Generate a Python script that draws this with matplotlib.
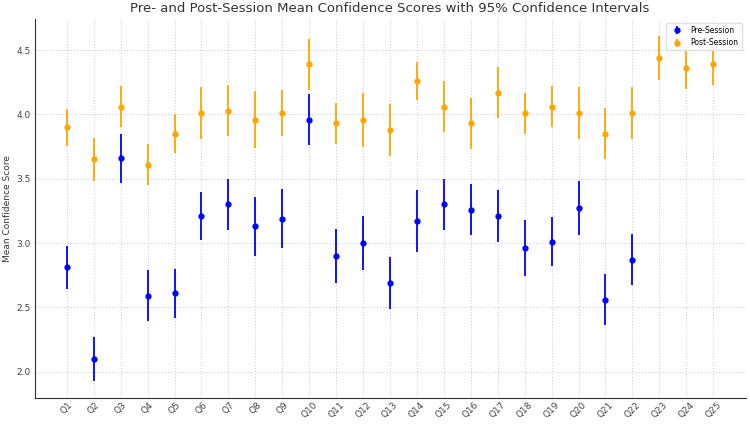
import matplotlib
matplotlib.use("Agg")
import matplotlib.pyplot as plt
import numpy as np

questions = ["Q%d" % i for i in range(1, 26)]

# pre-session means and CI half widths (Q23-Q25 have no pre data)
pre_mean = [2.81, 2.10, 3.66, 2.59, 2.61, 3.21, 3.30, 3.13, 3.19, 3.96,
            2.90, 3.00, 2.69, 3.17, 3.30, 3.26, 3.21, 2.96, 3.01, 3.27,
            2.56, 2.87, np.nan, np.nan, np.nan]
pre_err = [0.165, 0.17, 0.19, 0.20, 0.19, 0.19, 0.20, 0.23, 0.23, 0.20,
           0.21, 0.21, 0.20, 0.24, 0.20, 0.20, 0.20, 0.22, 0.19, 0.21,
           0.20, 0.20, np.nan, np.nan, np.nan]

post_mean = [3.90, 3.65, 4.06, 3.61, 3.85, 4.01, 4.03, 3.96, 4.01, 4.39,
             3.93, 3.96, 3.88, 4.26, 4.06, 3.93, 4.17, 4.01, 4.06, 4.01,
             3.85, 4.01, 4.44, 4.36, 4.39]
post_err = [0.145, 0.17, 0.16, 0.16, 0.15, 0.20, 0.20, 0.22, 0.18, 0.20,
            0.16, 0.21, 0.20, 0.15, 0.20, 0.20, 0.20, 0.16, 0.16, 0.20,
            0.20, 0.20, 0.17, 0.16, 0.16]

fig = plt.figure(figsize=(7.5, 4.26), dpi=100)
ax = fig.add_axes([0.046, 0.066, 0.948, 0.89])

x = np.arange(len(questions))
ax.errorbar(x, pre_mean, yerr=pre_err, fmt='o', color='blue', ecolor='blue',
            markersize=3.5, elinewidth=1.3, capsize=0, label='Pre-Session', zorder=3)
ax.errorbar(x, post_mean, yerr=post_err, fmt='o', color='orange', ecolor='orange',
            markersize=3.5, elinewidth=1.3, capsize=0, label='Post-Session', zorder=3)

ax.set_xticks(x)
ax.set_xticklabels(questions, rotation=45, fontsize=6.5, color='#444444')
ax.set_yticks([2.0, 2.5, 3.0, 3.5, 4.0, 4.5])
ax.tick_params(axis='y', labelsize=6.5, labelcolor='#444444', length=0, pad=3)
ax.tick_params(axis='x', length=0, pad=2)
ax.set_ylabel('Mean Confidence Score', fontsize=6.5, color='#333333', labelpad=3)
ax.set_title('Pre- and Post-Session Mean Confidence Scores with 95% Confidence Intervals',
             fontsize=9.5, color='#333333', pad=5)

ax.grid(True, color='#d0d0d0', linestyle=':', linewidth=0.8)
ax.set_axisbelow(True)
for s in ['top', 'right']:
    ax.spines[s].set_visible(False)
for s in ['left', 'bottom']:
    ax.spines[s].set_color('#333333')
    ax.spines[s].set_linewidth(0.8)

ax.legend(loc='upper right', fontsize=5.5, framealpha=0.9, edgecolor='#dddddd')

fig.savefig('out.png', dpi=100)
